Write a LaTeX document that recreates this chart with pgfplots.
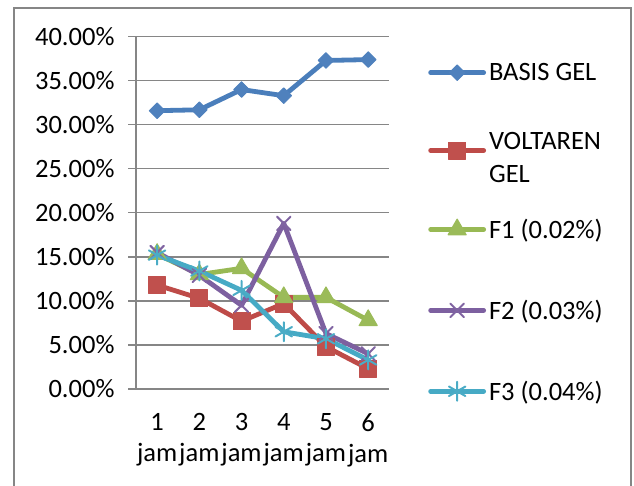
\documentclass[border=0pt]{standalone}
\usepackage{pgfplots}
\pgfplotsset{compat=1.18}
\usepackage{fontspec}
\setmainfont{Carlito}
\definecolor{cBlue}{HTML}{4A7EBB}
\definecolor{cBlueM}{HTML}{4F81BD}
\definecolor{cRed}{HTML}{BE4B48}
\definecolor{cRedM}{HTML}{C0504D}
\definecolor{cGreen}{HTML}{98B954}
\definecolor{cGreenM}{HTML}{9BBB59}
\definecolor{cPurple}{HTML}{7D60A0}
\definecolor{cPurpleM}{HTML}{8064A2}
\definecolor{cCyan}{HTML}{46AAC5}
\definecolor{cCyanM}{HTML}{4BACC6}
\definecolor{cGrid}{HTML}{868686}
\begin{document}
\begin{tikzpicture}
\useasboundingbox (0pt,0pt) rectangle (634pt,486pt);
\draw[cGrid, line width=2pt] (14pt,-10pt) -- (14pt,478pt) -- (631pt,478pt) -- (631pt,-10pt);
\begin{axis}[
  at={(136pt,97pt)}, anchor=south west,
  scale only axis, width=253.3pt, height=352.3pt,
  xmin=0.5, xmax=6.5, ymin=0, ymax=40,
  axis x line*=bottom, axis y line*=left,
  axis line style={-, cGrid, line width=1.3pt},
  ymajorgrids, grid style={cGrid, line width=1.3pt},
  ytick={0,5,...,40},
  yticklabels={0.00\%,5.00\%,10.00\%,15.00\%,20.00\%,25.00\%,30.00\%,35.00\%,40.00\%},
  xtick={1,2,3,4,5,6},
  xticklabels={1\\jam,2\\jam,3\\jam,4\\jam,5\\jam,6\\jam},
  minor xtick={0.5,1.5,...,6.5},
  tick align=outside,
  major tick length=8pt, minor tick length=7pt,
  xtick style={draw=none},
  minor x tick style={cGrid, line width=1.3pt},
  ytick style={cGrid, line width=1.3pt},
  tick label style={font=\fontsize{26.5}{31}\selectfont},
  xticklabel style={align=center, yshift=-13pt},
  yticklabel style={xshift=-10pt},
  legend image code/.code={\draw[mark repeat=2,mark phase=2] plot coordinates {(0pt,0pt)(26.5pt,0pt)(53pt,0pt)};},
  legend style={at={(1.153,0.925)}, anchor=north west, draw=none, fill=none, inner sep=0pt,
    font=\fontsize{26.5}{33}\selectfont, row sep=60pt, column sep=3pt,
    nodes={inner sep=0pt}},
  legend cell align=left,
  every axis plot/.append style={line width=4.8pt, line join=round, line cap=round},
]
\addplot[cBlue, mark=square*, mark size=5.5pt, mark options={rotate=45, fill=cBlueM, draw=cBlueM, line width=1pt}]
  coordinates {(1,31.6)(2,31.7)(3,34.0)(4,33.3)(5,37.3)(6,37.4)};
\addlegendentry{BASIS GEL}
\addplot[cRed, mark=square*, mark size=8.5pt, mark options={fill=cRedM, draw=cRedM, line width=1pt}]
  coordinates {(1,11.8)(2,10.3)(3,7.7)(4,9.7)(5,4.8)(6,2.3)};
\addlegendentry{\smash{\begin{tabular}[t]{@{}l@{}}VOLTAREN\\GEL\end{tabular}}}
\addplot[cGreen, mark=triangle*, mark size=10.5pt, mark options={fill=cGreenM, draw=cGreenM, line width=1pt}]
  coordinates {(1,15.3)(2,13.0)(3,13.7)(4,10.4)(5,10.4)(6,7.8)};
\addlegendentry{F1 (0.02\%)}
\addplot[cPurple, mark=x, mark size=9.5pt, mark options={draw=cPurpleM, line width=2pt}]
  coordinates {(1,15.5)(2,12.9)(3,9.5)(4,18.8)(5,6.3)(6,4.0)};
\addlegendentry{F2 (0.03\%)}
\addplot[cCyan, mark=asterisk, mark size=9.5pt, mark options={draw=cCyanM, line width=2pt}]
  coordinates {(1,15.2)(2,13.4)(3,11.2)(4,6.5)(5,5.7)(6,3.3)};
\addlegendentry{F3 (0.04\%)}
\end{axis}
\end{tikzpicture}
\end{document}
